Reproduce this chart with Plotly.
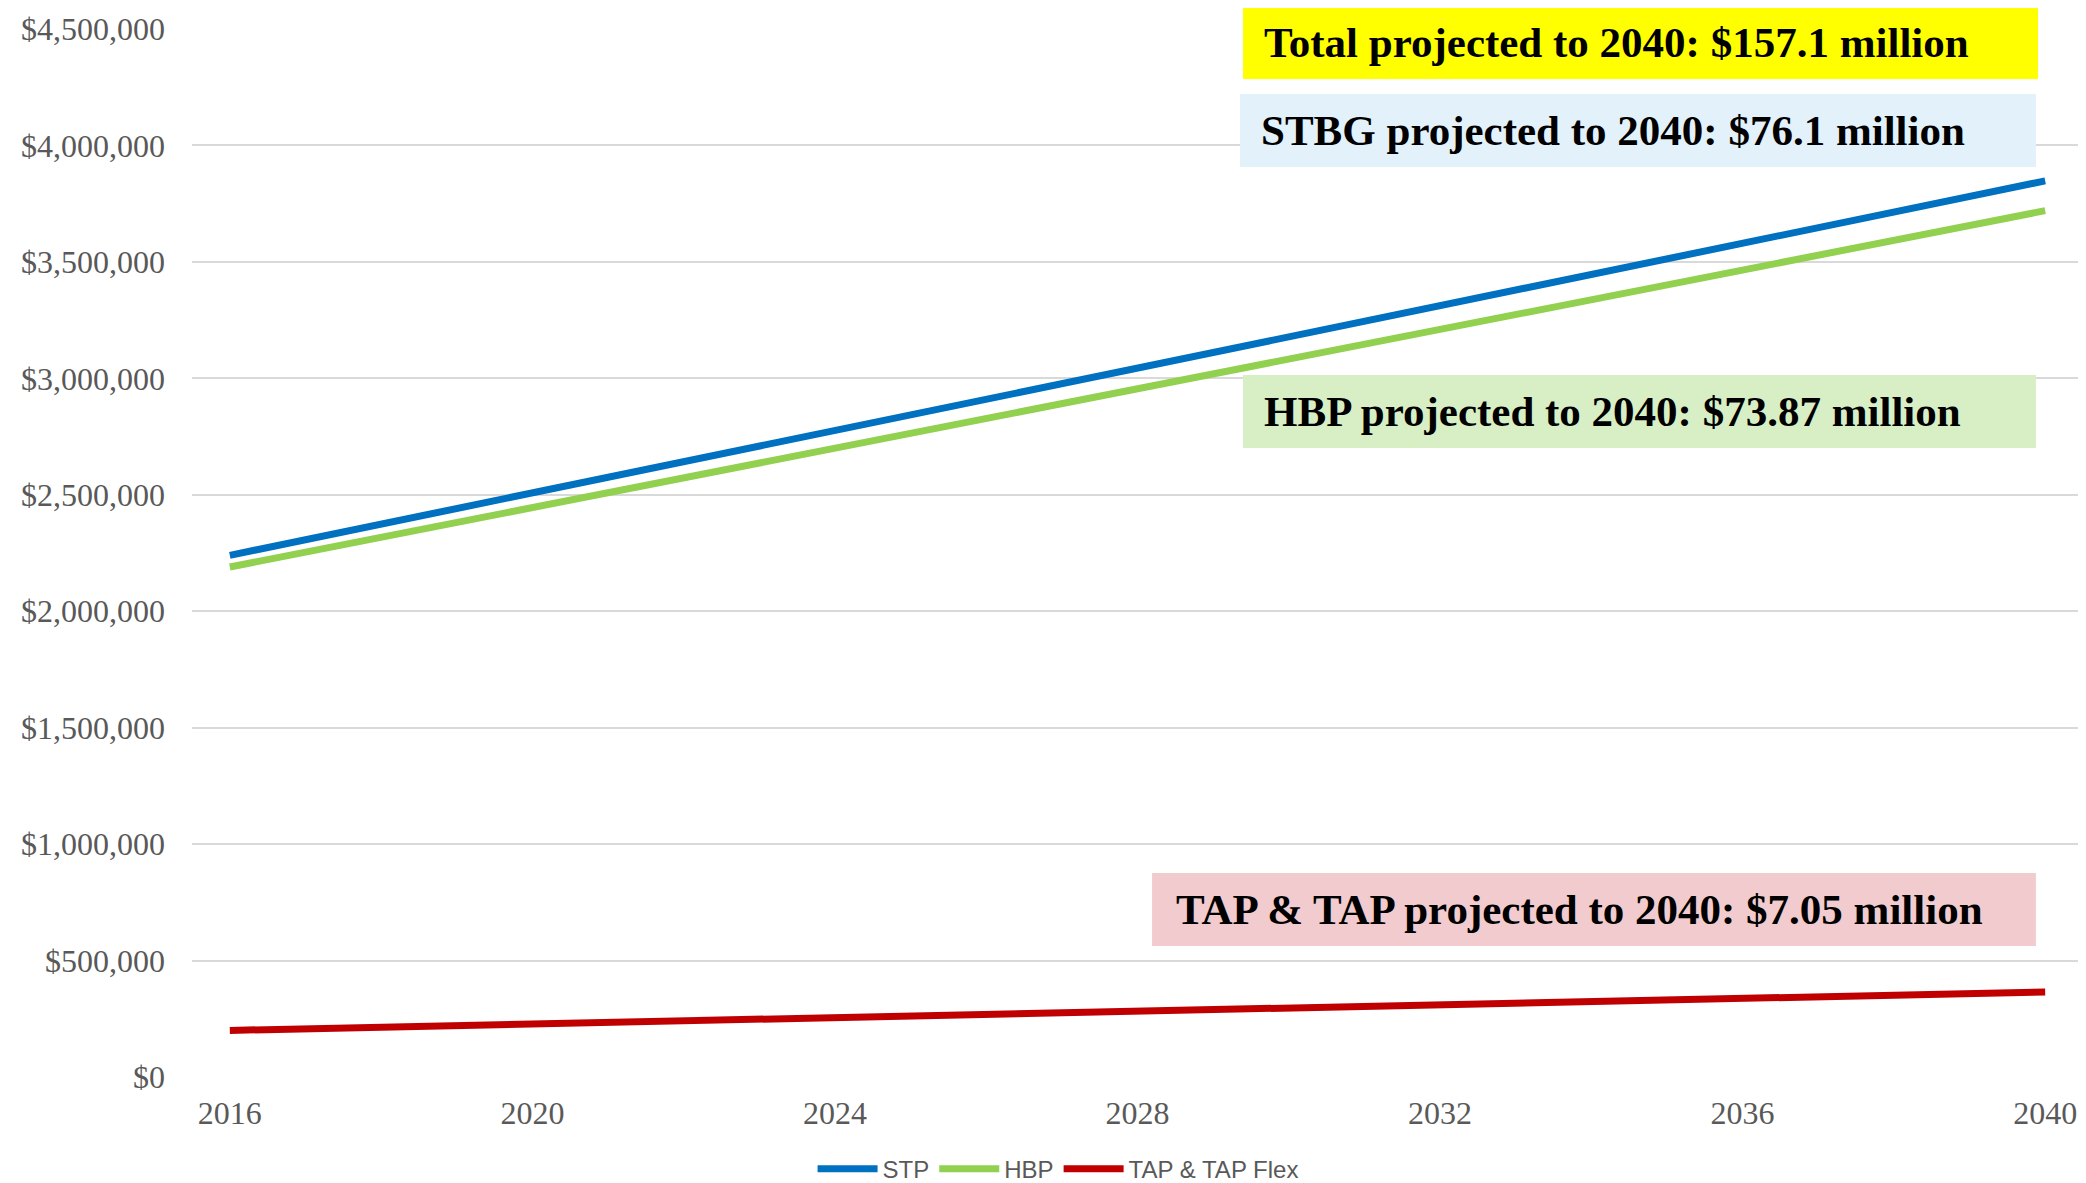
"""STP / HBP / TAP funding projection to 2040"""
import plotly.graph_objects as go

years = list(range(2016, 2041))

stp = [2240000, 2307000, 2374000, 2441000, 2508000, 2575000, 2642000, 2709000,
       2776000, 2843000, 2910000, 2977000, 3044000, 3111000, 3178000, 3245000,
       3312000, 3379000, 3446000, 3513000, 3580000, 3647000, 3714000, 3781000,
       3848000]
hbp = [2190000, 2253750, 2317500, 2381250, 2445000, 2508750, 2572500, 2636250,
       2700000, 2763750, 2827500, 2891250, 2955000, 3018750, 3082500, 3146250,
       3210000, 3273750, 3337500, 3401250, 3465000, 3528750, 3592500, 3656250,
       3720000]
tap = [200000, 206875, 213750, 220625, 227500, 234375, 241250, 248125,
       255000, 261875, 268750, 275625, 282500, 289375, 296250, 303125,
       310000, 316875, 323750, 330625, 337500, 344375, 351250, 358125,
       365000]

series_names = ["STP", "HBP", "TAP & TAP Flex"]
series_colors = ["#0070C0", "#92D050", "#C00000"]

callouts = [
    "Total projected to 2040: $157.1 million",
    "STBG projected to 2040: $76.1 million",
    "HBP projected to 2040: $73.87 million",
    "TAP & TAP projected to 2040: $7.05 million",
]
# box (x0, x1, y0, y1) in paper coords, fill colour, text x offset
callout_boxes = [
    ((0.5558, 0.9762, 0.9523, 1.0210), "#FFFF00", 0.0100),
    ((0.5542, 0.9751, 0.8683, 0.9380), "#E3F1FA", 0.0100),
    ((0.5558, 0.9751, 0.6002, 0.6698), "#D8EFC5", 0.0100),
    ((0.5077, 0.9751, 0.1250, 0.1947), "#F1CBCD", 0.0116),
]

fig = go.Figure()
for name, vals, col in zip(series_names, [stp, hbp, tap], series_colors):
    fig.add_trace(go.Scatter(
        x=years, y=vals, name=name, mode="lines", legendgroup=name,
        line=dict(color=col, width=7),
    ))

for text, (box, fill, pad) in zip(callouts, callout_boxes):
    x0, x1, y0, y1 = box
    fig.add_shape(type="rect", xref="paper", yref="paper",
                  x0=x0, x1=x1, y0=y0, y1=y1,
                  fillcolor=fill, line=dict(width=0), layer="above")
    fig.add_annotation(
        text=f"<b>{text}</b>", xref="paper", yref="paper",
        x=x0 + pad, y=(y0 + y1) / 2, xanchor="left", yanchor="middle",
        showarrow=False,
        font=dict(family="Liberation Serif, Times New Roman, serif", size=43, color="black"),
    )

tick_font = dict(family="Liberation Serif, Times New Roman, serif", size=32, color="#595959")

# page body has an 8px margin, so the figure is 8px smaller than the window
fig.update_layout(
    width=2078, height=1175,
    margin=dict(l=184, r=3, t=21, b=106, autoexpand=False),
    plot_bgcolor="white", paper_bgcolor="white",
    showlegend=True,
    legend=dict(
        orientation="h", yref="paper",
        x=0.458, y=-0.088, xanchor="center", yanchor="middle",
        itemwidth=60, tracegroupgap=20,
        font=dict(family="Liberation Sans, Arial, sans-serif", size=24, color="#595959"),
        bgcolor="rgba(0,0,0,0)",
    ),
    xaxis=dict(
        range=[2015.5, 2040.5], tick0=2016, dtick=4, automargin=False,
        showgrid=False, zeroline=False, showline=False,
        ticks="", ticklabelstandoff=14, tickfont=tick_font,
    ),
    yaxis=dict(
        range=[0, 4500000], dtick=500000, tickformat="$,.0f", automargin=False,
        showgrid=True, gridcolor="#D9D9D9", gridwidth=1.5,
        zeroline=False, showline=False,
        ticks="", ticklabelstandoff=26, tickfont=tick_font,
    ),
)

fig.write_html("out.html")
